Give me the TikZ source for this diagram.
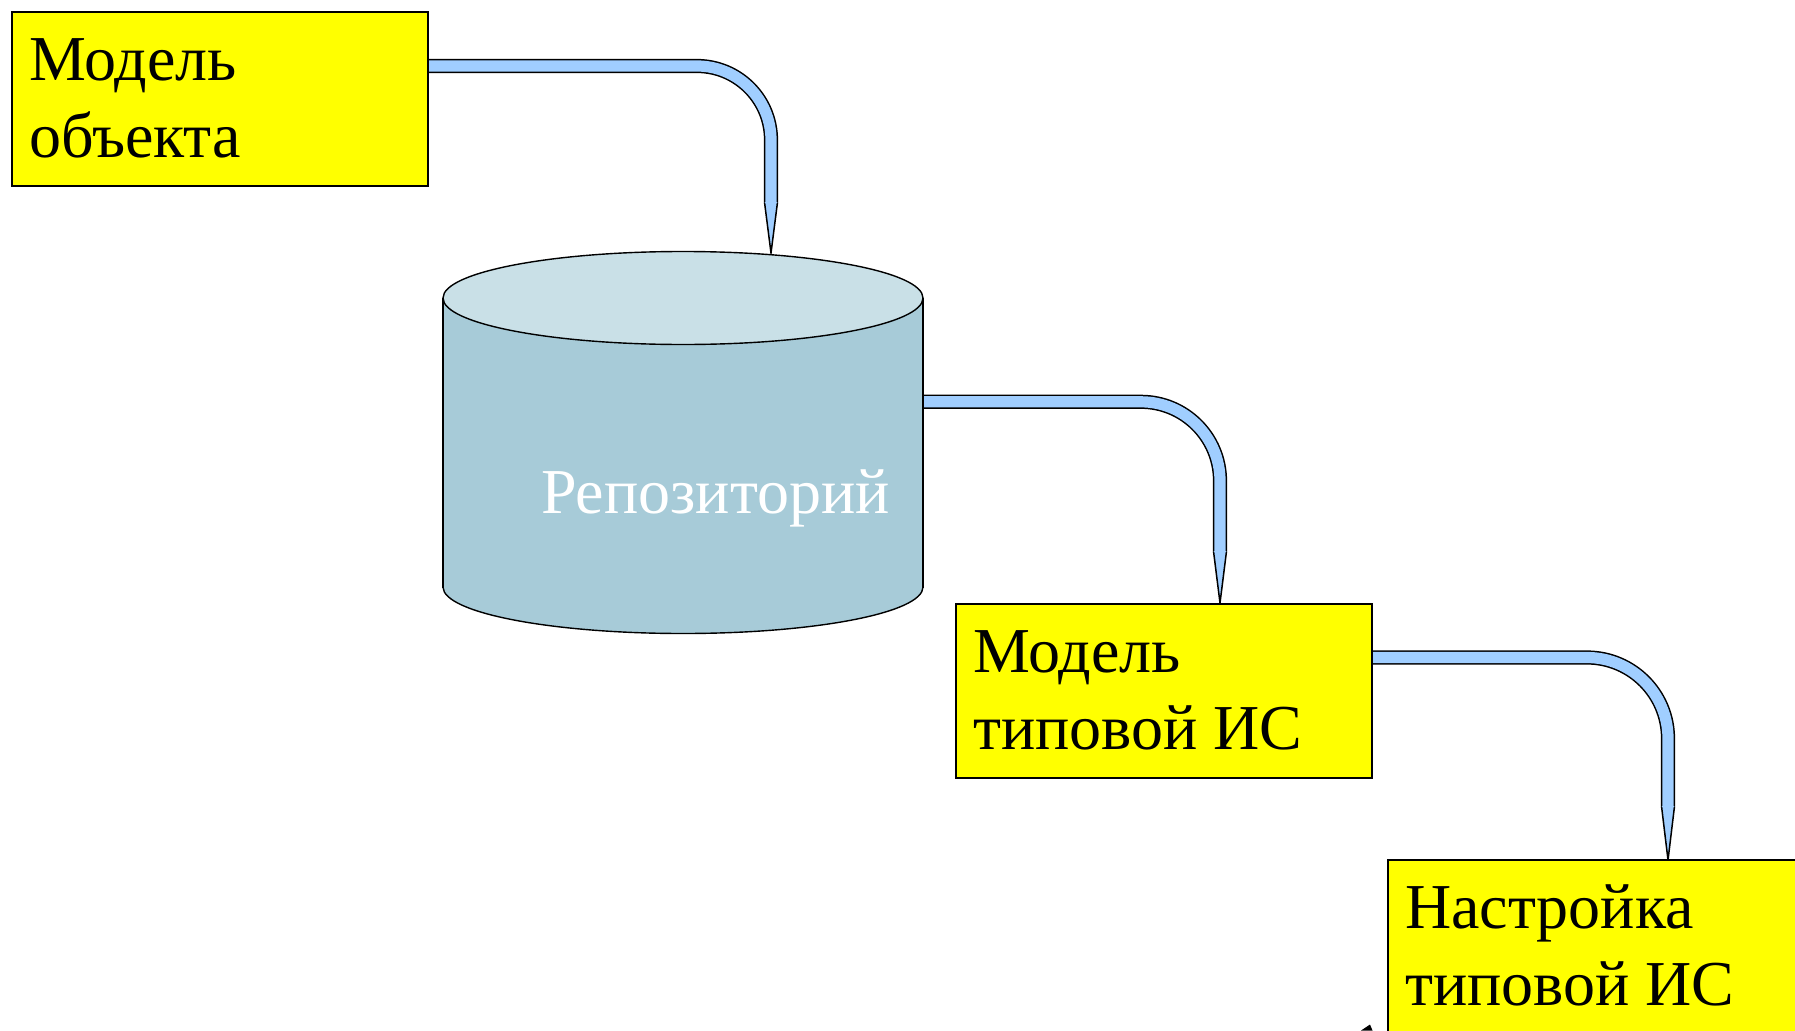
\documentclass[tikz,border=0pt]{standalone}
\usepackage{fontspec}
\setmainfont{Liberation Serif}
\usetikzlibrary{calc}
\definecolor{boxyellow}{RGB}{255,255,0}
\definecolor{pipeblue}{RGB}{160,206,255}
\definecolor{cylbody}{RGB}{167,203,216}
\definecolor{cyltop}{RGB}{201,224,231}
\pgfdeclarelayer{back}
\pgfdeclarelayer{pipes}
\pgfsetlayers{back,pipes,main}
\begin{document}
\begin{tikzpicture}[x=1pt,y=-1pt,
  box/.style={draw=black, line width=1.6pt, fill=boxyellow, anchor=north west, inner sep=0pt},
  lbl/.style={anchor=north west, inner sep=0pt, align=left, font=\fontsize{64}{77}\selectfont},
  pipe/.style={draw=black, line width=1.5pt, double=pipeblue, double distance=11.2pt},
  tipline/.style={draw=black, line width=1.5pt, line join=miter},
  cylline/.style={draw=black, line width=1.4pt}]
\useasboundingbox (0,0) rectangle (1795,1030);
\clip (0,0) rectangle (1795,1030);
\begin{pgfonlayer}{back}
\fill[white] (0,0) rectangle (1795,1030);
\end{pgfonlayer}

% boxes
\node[box, minimum width=416pt, minimum height=174pt] (m1) at (11,11) {};
\node[lbl] (t1) at ($(m1.north west)+(18,19)$) {\rule{0pt}{50pt}Модель\\объекта};
\node[box, minimum width=416pt, minimum height=174pt] (m2) at (955,603) {};
\node[lbl] (t2) at ($(m2.north west)+(18,19)$) {\rule{0pt}{50pt}Модель\\типовой ИС};
\node[box, minimum width=440pt, minimum height=220pt] (m3) at (1387,859) {};
\node[lbl] (t3) at ($(m3.north west)+(18,19)$) {\rule{0pt}{50pt}Настройка\\типовой ИС};

% cylinder (repository)
\node[inner sep=0pt, minimum width=480pt, minimum height=382pt] (cyl) at (683,442) {};
\filldraw[cylline, fill=cylbody] (683,587) ellipse [x radius=240, y radius=46.5];
\fill[cylbody] (443,298) rectangle (923,587);
\draw[cylline] (443,298) -- (443,587.5) (923,298) -- (923,587.5);
\filldraw[cylline, fill=cyltop] (683,298) ellipse [x radius=240, y radius=46.5];
\node[anchor=base west, inner sep=0pt, text=white, font=\fontsize{64}{77}\selectfont] (rep) at (541,513) {Репозиторий};

% fragment at bottom edge
\fill[black] (1361,1030.5) -- (1370,1024.5) -- (1372.5,1030.5) -- cycle;

% connectors
\begin{pgfonlayer}{pipes}
\coordinate (p1s) at ($(m1.north east)+(0,55)$);
\coordinate (p1t) at (771,203);
\coordinate (p1e) at (771,253);
\draw[pipe, rounded corners=74pt] (p1s) -| (p1t);
\fill[pipeblue] ($(p1t)+(-6.3,-1)$) -- (p1e) -- ($(p1t)+(6.3,-1)$) -- cycle;
\draw[tipline] ($(p1t)+(-6.4,0)$) -- (p1e) -- ($(p1t)+(6.4,0)$);

\coordinate (p2s) at ($(cyl.north east)+(0,151)$);
\coordinate (p2t) at (1220,552);
\coordinate (p2e) at ($(m2.north west)+(265,0)$);
\draw[pipe, rounded corners=79pt] (p2s) -| (p2t);
\fill[pipeblue] ($(p2t)+(-6.3,-1)$) -- (p2e) -- ($(p2t)+(6.3,-1)$) -- cycle;
\draw[tipline] ($(p2t)+(-6.4,0)$) -- (p2e) -- ($(p2t)+(6.4,0)$);

\coordinate (p3s) at ($(m2.north east)+(0,54.5)$);
\coordinate (p3t) at (1668,807);
\coordinate (p3e) at ($(m3.north west)+(281,1)$);
\draw[pipe, rounded corners=81pt] (p3s) -| (p3t);
\fill[pipeblue] ($(p3t)+(-6.3,-1)$) -- (p3e) -- ($(p3t)+(6.3,-1)$) -- cycle;
\draw[tipline] ($(p3t)+(-6.4,0)$) -- (p3e) -- ($(p3t)+(6.4,0)$);
\end{pgfonlayer}
\end{tikzpicture}
\end{document}
